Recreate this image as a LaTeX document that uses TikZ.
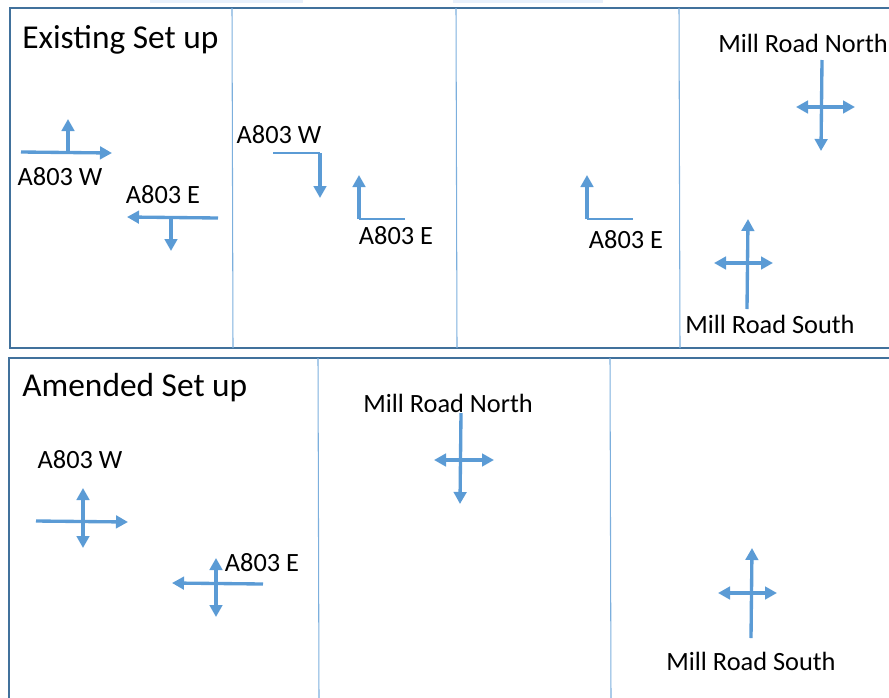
\documentclass[tikz,border=0pt]{standalone}
\usepackage{fontspec}
\setmainfont{Carlito}
\usetikzlibrary{arrows.meta}
\definecolor{roadblue}{RGB}{91,155,213}
\definecolor{boxblue}{RGB}{65,113,156}
\definecolor{paleblue}{RGB}{232,240,251}

\begin{document}
\begin{tikzpicture}[x=0.02cm, y=-0.02cm,
    move/.style={draw=roadblue, line width=1.9pt, -{Triangle[length=0.24cm, width=0.25cm]}},
    bothway/.style={draw=roadblue, line width=1.9pt, {Triangle[length=0.24cm, width=0.25cm]}-{Triangle[length=0.24cm, width=0.25cm]}},
    plain/.style={draw=roadblue, line width=0.6pt},
    frame/.style={draw=boxblue, line width=1.2pt},
    divider/.style={draw=roadblue!80, line width=0.6pt},
    lbl/.style={font=\fontsize{15}{17}\selectfont, inner sep=0pt},
    heading/.style={font=\fontsize{19}{22}\selectfont, inner sep=0pt, anchor=west}]
\useasboundingbox (0,0) rectangle (889,697);
\fill[paleblue] (150,0) rectangle (303,3);
\fill[paleblue] (453,0) rectangle (603,3);
% existing set up
\draw[frame] (895,8) -- (10,8) -- (10,348) -- (895,348);
\draw[divider] (232,8) -- (233,348);
\draw[divider] (456,8) -- (457,348);
\draw[divider] (679,8) -- (680,348);
\node[heading] (existing) at (22,40) {Existing Set up};
\draw[move] (21,152) -- (112,153);
\draw[move] (68,153) -- (68,119);
\node[lbl] (ew) at (60,177) {A803 W};
\draw[move] (218,218) -- (127,217);
\draw[move] (171,218) -- (171,251);
\node[lbl] (ee) at (163,195) {A803 E};
\node[lbl] (ew2) at (279,135) {A803 W};
\draw[plain] (273,153) -- (320,153);
\draw[move] (320,153) -- (320,198);
\draw[plain] (359,219) -- (405,219);
\draw[move] (359,219) -- (359,175);
\node[lbl] (ee2) at (396,236) {A803 E};
\draw[plain] (587,219) -- (633,219);
\draw[move] (587,219) -- (587,175);
\node[lbl] (ee3) at (626,240) {A803 E};
\node[lbl] (mrn) at (803,43) {Mill Road North};
\draw[move] (822,60) -- (821,151);
\draw[bothway] (796,107) -- (855,107);
\draw[move] (747,309) -- (748,219);
\draw[bothway] (714,263) -- (773,263);
\node[lbl] (mrs) at (770,324) {Mill Road South};
% amended set up
\draw[frame] (895,358) -- (9,358) -- (9,700);
\draw[divider] (318,358) -- (319,700);
\draw[divider] (610,358) -- (611,700);
\node[heading] (amended) at (22,388) {Amended Set up};
\node[lbl] (aw) at (80,460) {A803 W};
\draw[bothway] (83,488) -- (83,548);
\draw[move] (36,521) -- (128,522);
\node[lbl] (ae) at (262,563) {A803 E};
\draw[bothway] (216,558) -- (216,617);
\draw[move] (263,584) -- (172,583);
\node[lbl] (amrn) at (448,403) {Mill Road North};
\draw[move] (461,413) -- (460,504);
\draw[bothway] (434,460) -- (494,460);
\draw[move] (751,638) -- (752,548);
\draw[bothway] (718,593) -- (777,593);
\node[lbl] (amrs) at (751,661) {Mill Road South};
\end{tikzpicture}
\end{document}
